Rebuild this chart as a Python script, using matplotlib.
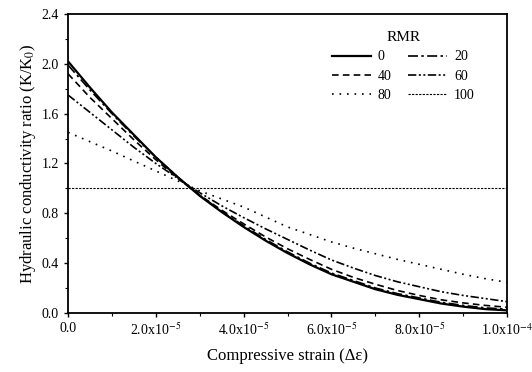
import matplotlib
matplotlib.use('Agg')
import matplotlib.pyplot as plt
from matplotlib.ticker import AutoMinorLocator

# Compressive strain (x1e-5) and hydraulic conductivity ratio
strain = [0.0, 0.5, 1.0, 1.5, 2.0, 2.5, 3.0, 3.5, 4.0, 4.5, 5.0,
          5.5, 6.0, 6.5, 7.0, 7.5, 8.0, 8.5, 9.0, 9.5, 10.0]
rmr0 = [2.02, 1.81, 1.61, 1.43, 1.25, 1.09, 0.94, 0.81, 0.69, 0.58, 0.48,
        0.39, 0.31, 0.25, 0.19, 0.145, 0.11, 0.075, 0.05, 0.03, 0.02]
rmr20 = [1.99, 1.79, 1.60, 1.42, 1.25, 1.09, 0.945, 0.815, 0.70, 0.59, 0.49,
         0.40, 0.32, 0.26, 0.20, 0.155, 0.12, 0.085, 0.06, 0.04, 0.03]
rmr40 = [1.92, 1.73, 1.56, 1.39, 1.23, 1.08, 0.945, 0.825, 0.715, 0.61, 0.515,
         0.43, 0.35, 0.285, 0.23, 0.18, 0.14, 0.105, 0.08, 0.06, 0.045]
rmr60 = [1.75, 1.61, 1.47, 1.33, 1.20, 1.08, 0.965, 0.86, 0.765, 0.675, 0.59,
         0.505, 0.425, 0.36, 0.30, 0.25, 0.21, 0.17, 0.14, 0.115, 0.09]
rmr80 = [1.45, 1.375, 1.30, 1.22, 1.14, 1.06, 0.98, 0.915, 0.85, 0.77, 0.69,
         0.63, 0.57, 0.52, 0.475, 0.43, 0.39, 0.35, 0.31, 0.275, 0.245]
rmr100 = [1.0] * len(strain)

x_ticks = [0, 2e-5, 4e-5, 6e-5, 8e-5, 1e-4]
x_ticklabels = ['0.0', r'2.0x10$^{-5}$', r'4.0x10$^{-5}$', r'6.0x10$^{-5}$',
                r'8.0x10$^{-5}$', r'1.0x10$^{-4}$']
y_ticks = [0.0, 0.4, 0.8, 1.2, 1.6, 2.0, 2.4]

plt.rcParams['font.family'] = ['Liberation Serif', 'DejaVu Serif']
plt.rcParams['mathtext.fontset'] = 'stix'
plt.rcParams['font.size'] = 10

fig = plt.figure(figsize=(5.32, 3.72), dpi=100)
ax = fig.add_axes([0.128, 0.159, 0.825, 0.803])

x = [s * 1e-5 for s in strain]
l0, = ax.plot(x, rmr0, color='black', linewidth=1.6, linestyle='-', label='0')
l20, = ax.plot(x, rmr20, color='black', linewidth=1.2, linestyle=(0, (6, 2, 1.5, 2)), label='20')
l40, = ax.plot(x, rmr40, color='black', linewidth=1.2, linestyle=(0, (4, 2.5)), label='40')
l60, = ax.plot(x, rmr60, color='black', linewidth=1.2, linestyle=(0, (5, 1.5, 1.2, 1.5, 1.2, 1.5)), label='60')
l80, = ax.plot(x, rmr80, color='black', linewidth=1.2, linestyle=(0, (1, 3.5)), label='80')
l100, = ax.plot(x, rmr100, color='black', linewidth=0.8, linestyle=(0, (2, 1.2)), label='100')

ax.set_xlim(0, 1e-4)
ax.set_ylim(0, 2.4)
ax.set_xticks(x_ticks)
ax.set_xticklabels(x_ticklabels)
ax.set_yticks(y_ticks)
ax.set_yticklabels(['%.1f' % v for v in y_ticks])
ax.xaxis.set_minor_locator(AutoMinorLocator(2))
ax.yaxis.set_minor_locator(AutoMinorLocator(2))
ax.tick_params(which='major', direction='out', length=3, width=1)
ax.tick_params(which='minor', direction='out', length=2, width=0.8)
for sp in ax.spines.values():
    sp.set_linewidth(1.3)

ax.set_xlabel('Compressive strain (\u0394\u03b5)', fontsize=12, labelpad=7)
ax.set_ylabel('Hydraulic conductivity ratio (K/K$_0$)', fontsize=12, labelpad=3)

# rows read 0/20, 40/60, 80/100 -> column-major order for matplotlib
handles = [l0, l40, l80, l20, l60, l100]
leg = ax.legend(handles, [h.get_label() for h in handles], title='RMR', ncol=2,
                frameon=False, loc='upper right', bbox_to_anchor=(0.955, 0.985),
                handlelength=2.8, handletextpad=0.5, columnspacing=1.2,
                labelspacing=0.45, fontsize=10)
leg.get_title().set_fontsize(11)

fig.savefig('out.png', dpi=100)
